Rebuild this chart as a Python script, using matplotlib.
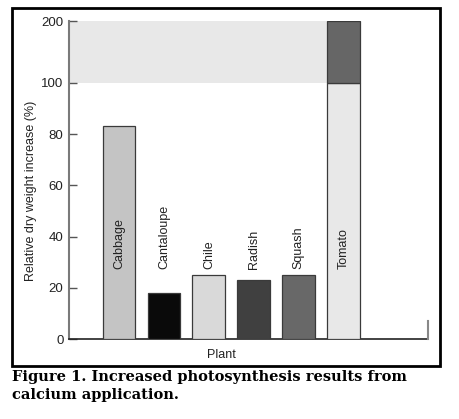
import numpy as np
import matplotlib
matplotlib.use('Agg')
import matplotlib.pyplot as plt
from matplotlib.patches import Rectangle

# Data
plants = ['Cabbage', 'Cantaloupe', 'Chile', 'Radish', 'Squash', 'Tomato']
increase = [83, 18, 25, 23, 25, 200]
colors = ['#c4c4c4', '#0a0a0a', '#d9d9d9', '#404040', '#686868', '#e8e8e8']
break_at = 100
ytick_vals = [0, 20, 40, 60, 80, 100, 200]
caption = 'Figure 1. Increased photosynthesis results from\ncalcium application.'

plt.rcParams['font.family'] = ['Liberation Sans', 'DejaVu Sans']

# compressed axis above the break
squeeze = 0.242


def fwd(v):
    v = np.asarray(v, dtype=float)
    return np.where(v <= break_at, v, break_at + (v - break_at) * squeeze)


def inv(v):
    v = np.asarray(v, dtype=float)
    return np.where(v <= break_at, v, break_at + (v - break_at) / squeeze)


fig = plt.figure(figsize=(4.59, 4.19), dpi=100)
ax = fig.add_axes([69 / 459, 1 - 339 / 419, (428 - 69) / 459, (339 - 21) / 419])
ax.set_yscale('function', functions=(fwd, inv))

x = np.arange(len(plants))
w = 0.73
low = [min(v, break_at) for v in increase]
ax.bar(x, low, width=w, color=colors, edgecolor='#3a3a3a', linewidth=0.9, zorder=3)
# part above the break (tomato only)
for xi, v in zip(x, increase):
    if v > break_at:
        ax.bar(xi, v - break_at, width=w, bottom=break_at, color='#666666',
               edgecolor='#3a3a3a', linewidth=0.9, zorder=3)

ax.set_xlim(-1.11, 6.87)
ax.set_ylim(0, 200)

# light band between break and top
ax.fill_between([-1.11, x[-1] - w / 2], break_at, 200, color='#e8e8e8',
                linewidth=0, zorder=1)

for xi, name in zip(x, plants):
    ax.text(xi, 27.4, name, rotation=90, ha='center', va='bottom',
            fontsize=9, color='#222222', zorder=4)

ax.set_yticks(ytick_vals)
ax.set_yticklabels([str(v) for v in ytick_vals], fontsize=9.5, color='#222222')
ax.yaxis.set_minor_locator(plt.NullLocator())
ax.tick_params(axis='y', direction='in', length=6, width=1, color='#555555', pad=4)
ax.set_xticks([])

for s in ['top', 'right']:
    ax.spines[s].set_visible(False)
ax.spines['left'].set_color('#7a7a7a')
ax.spines['left'].set_linewidth(1.5)
ax.spines['bottom'].set_color('#222222')
ax.spines['bottom'].set_linewidth(1.2)
ax.plot([6.87, 6.87], [0, 7], color='#888888', linewidth=1.5, clip_on=False, zorder=5)

ax.set_ylabel('Relative dry weight increase (%)', fontsize=9, color='#222222')
ax.yaxis.set_label_coords(-0.09, 0.465)
ax.set_xlabel('Plant', fontsize=9, color='#222222')
ax.xaxis.set_label_coords(0.426, -0.032)

fig.add_artist(Rectangle((12 / 459, 1 - 366 / 419), (440 - 12) / 459, (366 - 8) / 419,
                         transform=fig.transFigure, fill=False, edgecolor='black',
                         linewidth=2))

fig.text(12 / 459, 1 - 370 / 419, caption, family='DejaVu Serif', weight='bold',
         fontsize=10.5, va='top', ha='left', linespacing=1.4)

fig.savefig('out.png', dpi=100)
